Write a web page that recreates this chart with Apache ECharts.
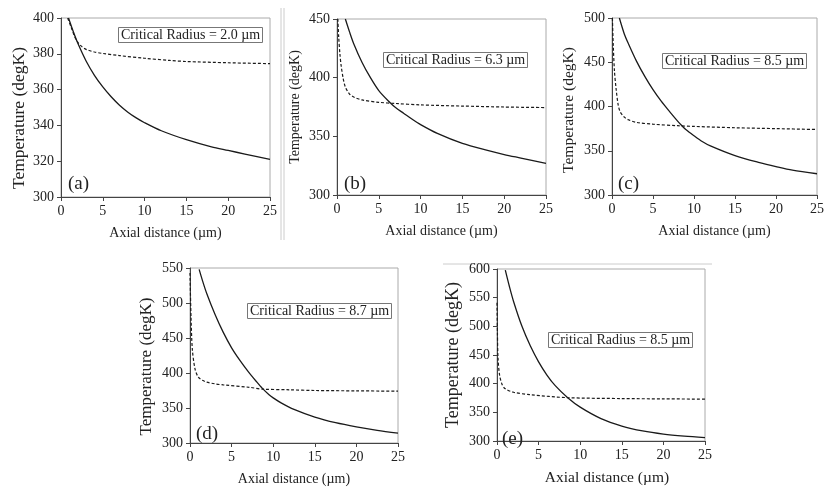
<!DOCTYPE html>
<html>
<head>
<meta charset="utf-8">
<script src="https://cdn.jsdelivr.net/npm/echarts@6/dist/echarts.min.js"></script>
<style>html,body{margin:0;padding:0;background:#fff;}#c{width:827px;height:487px;}</style>
</head>
<body>
<div id="c"></div>
<script>
// ---- data ----
var panelLabels = ['(a)', '(b)', '(c)', '(d)', '(e)'];
var radiusLabels = ['Critical Radius = 2.0 µm', 'Critical Radius = 6.3 µm', 'Critical Radius = 8.5 µm', 'Critical Radius = 8.7 µm', 'Critical Radius = 8.5 µm'];
var xTitle = 'Axial distance (µm)';
var yTitle = 'Temperature (degK)';
var yMaxes = [400, 450, 500, 550, 600];
var yIntervals = [20, 50, 50, 50, 50];

var solidA = [[0.9,400],[1.5,392],[2,386],[3,376],[4,368],[5,361.5],[6,356],[7,351.3],[8,347.4],[9,344.2],[10,341.5],[12,337],[15,332],[18,328],[20,326],[22,324],[25,321]];
var dashedA = [[0.8,400],[1.2,395],[1.6,390],[2,386.5],[2.5,384],[3,382.5],[4,381],[5,380.2],[7,379],[10,377.5],[13,376.3],[15,375.7],[20,375],[25,374.5]];

var solidB = [[1,450],[1.5,439],[2,429],[3,413],[4,400],[5,389],[6.3,379],[7,374.5],[8,369.5],[9,364.5],[10,360],[12,352.5],[15,344],[18,338],[20,334.5],[22,331.5],[25,327]];
var dashedB = [[0.1,450],[0.2,435],[0.35,420],[0.5,410],[0.75,399],[1,392],[1.5,386],[2,383.5],[3,381],[5,379],[7,378],[10,376.8],[15,375.8],[20,375],[25,374.5]];

var solidC = [[0.9,500],[1.5,482],[2,471],[3,451],[4,434],[5,419],[6,406],[7,394.5],[8,383.5],[8.5,378.5],[9,374],[10,367],[11,360.5],[12,355.5],[15,344.5],[18,336.5],[20,332],[22,328],[25,324]];
var dashedC = [[0.05,500],[0.15,470],[0.3,440],[0.5,420],[0.75,402],[1,394],[1.5,388],[2,385],[3,382],[5,380],[8,378.3],[10,377.5],[15,376],[20,375],[25,374]];

var solidD = [[1.1,548],[1.5,532],[2,514],[3,484],[4,458],[5,436],[6,418],[7,402],[8,387.5],[8.7,378],[9.5,369],[10,364.5],[11,357],[12.5,348],[15,337],[17.5,329],[20,323],[22.5,318],[25,314]];
var dashedD = [[0,543],[0.12,481],[0.28,434],[0.6,406],[1,394],[1.5,389.5],[2,387],[3,384.5],[4,383],[7.2,379.5],[8.7,377],[12,376],[15,375],[20,374.5],[25,374]];

var solidE = [[1,598],[1.5,569],[2,543],[3,500],[4,466],[5,438],[6,415],[7,396.5],[8.5,375.5],[10,359],[12.5,339],[15,326],[17.5,317.5],[20,312],[22.5,308.5],[25,306]];
var dashedE = [[0,541],[0.05,490],[0.12,445],[0.3,416],[0.6,399],[1,391],[2,385],[4,380.7],[8.5,375.6],[15,374],[20,373.5],[25,373]];

var solids = [solidA, solidB, solidC, solidD, solidE];
var dasheds = [dashedA, dashedB, dashedC, dashedD, dashedE];

// ---- layout ----
var grids = [
  {left: 61, top: 18, width: 209, height: 179},
  {left: 337, top: 19, width: 209, height: 176},
  {left: 612, top: 18, width: 208, height: 177},
  {left: 190, top: 268, width: 208, height: 176},
  {left: 497, top: 269, width: 208, height: 176}
];
var boxPos = [[118,27],[383,52],[662,53],[247,303],[548,332]];
var labelPos = [[68,175],[344,175],[618,175],[196,425],[502,430]];
var yNameSize = [17.5, 14, 15.5, 17, 18];
var yNameGap = [33, 35, 35, 34.5, 35];
var yNameShift = [21, 0, 7, 22, 0];
var xNameSize = [14, 14, 14, 14, 15.5];
var xNameShift = [0, 0, 0, 0, 12];

var FONT = "'Liberation Serif', 'DejaVu Serif', serif";
var axisColor = '#444';
var textColor = '#222';

var option = {
  animation: false,
  backgroundColor: '#fff',
  grid: [], xAxis: [], yAxis: [], series: [], title: [],
  graphic: [
    {type: 'line', shape: {x1: 281, y1: 8, x2: 281, y2: 240}, style: {stroke: '#ccc', lineWidth: 1}},
    {type: 'line', shape: {x1: 284, y1: 8, x2: 284, y2: 240}, style: {stroke: '#ccc', lineWidth: 1}},
    {type: 'line', shape: {x1: 443, y1: 264, x2: 712, y2: 264}, style: {stroke: '#ccc', lineWidth: 1}}
  ]
};

for (var i = 0; i < 5; i++) {
  var g = grids[i];
  option.grid.push({left: g.left, top: g.top, width: g.width, height: g.height, show: true, borderColor: '#aaa', borderWidth: 1, backgroundColor: 'transparent'});
  option.xAxis.push({
    type: 'value', gridIndex: i, min: 0, max: 25, interval: 5,
    name: xTitle, nameLocation: 'middle', nameGap: 29,
    nameTextStyle: {fontFamily: FONT, fontSize: xNameSize[i], color: textColor, padding: [0, 0, 0, xNameShift[i]]},
    axisLine: {show: true, lineStyle: {color: axisColor, width: 1}},
    axisTick: {show: true, length: 4, lineStyle: {color: axisColor}},
    axisLabel: {fontFamily: FONT, fontSize: 14, color: textColor, margin: 7},
    splitLine: {show: false}
  });
  option.yAxis.push({
    type: 'value', gridIndex: i, min: 300, max: yMaxes[i], interval: yIntervals[i],
    name: yTitle, nameLocation: 'middle', nameGap: yNameGap[i], nameRotate: 90,
    nameTextStyle: {fontFamily: FONT, fontSize: yNameSize[i], color: textColor, padding: [0, yNameShift[i], 0, 0]},
    axisLine: {show: true, lineStyle: {color: axisColor, width: 1}},
    axisTick: {show: true, length: 4, lineStyle: {color: axisColor}},
    axisLabel: {fontFamily: FONT, fontSize: 14, color: textColor, margin: 7},
    splitLine: {show: false}
  });
  option.series.push({
    type: 'line', xAxisIndex: i, yAxisIndex: i, data: solids[i], showSymbol: false, symbol: 'none',
    smooth: 0.3, clip: true,
    lineStyle: {color: '#1a1a1a', width: 1.3, type: 'solid'}
  });
  option.series.push({
    type: 'line', xAxisIndex: i, yAxisIndex: i, data: dasheds[i], showSymbol: false, symbol: 'none',
    smooth: 0.3, clip: true,
    lineStyle: {color: '#1a1a1a', width: 1.2, type: [3, 2]}
  });
  option.title.push({
    text: radiusLabels[i], left: boxPos[i][0], top: boxPos[i][1],
    padding: [1, 3], borderColor: '#777', borderWidth: 1, backgroundColor: '#fff',
    textStyle: {fontFamily: FONT, fontSize: 14, fontWeight: 'normal', color: textColor}
  });
  option.title.push({
    text: panelLabels[i], left: labelPos[i][0], top: labelPos[i][1], padding: 0,
    textStyle: {fontFamily: FONT, fontSize: 19, fontWeight: 'normal', color: textColor}
  });
}

var chart = echarts.init(document.getElementById('c'), null, {renderer: 'canvas'});
chart.setOption(option);
</script>
</body>
</html>
